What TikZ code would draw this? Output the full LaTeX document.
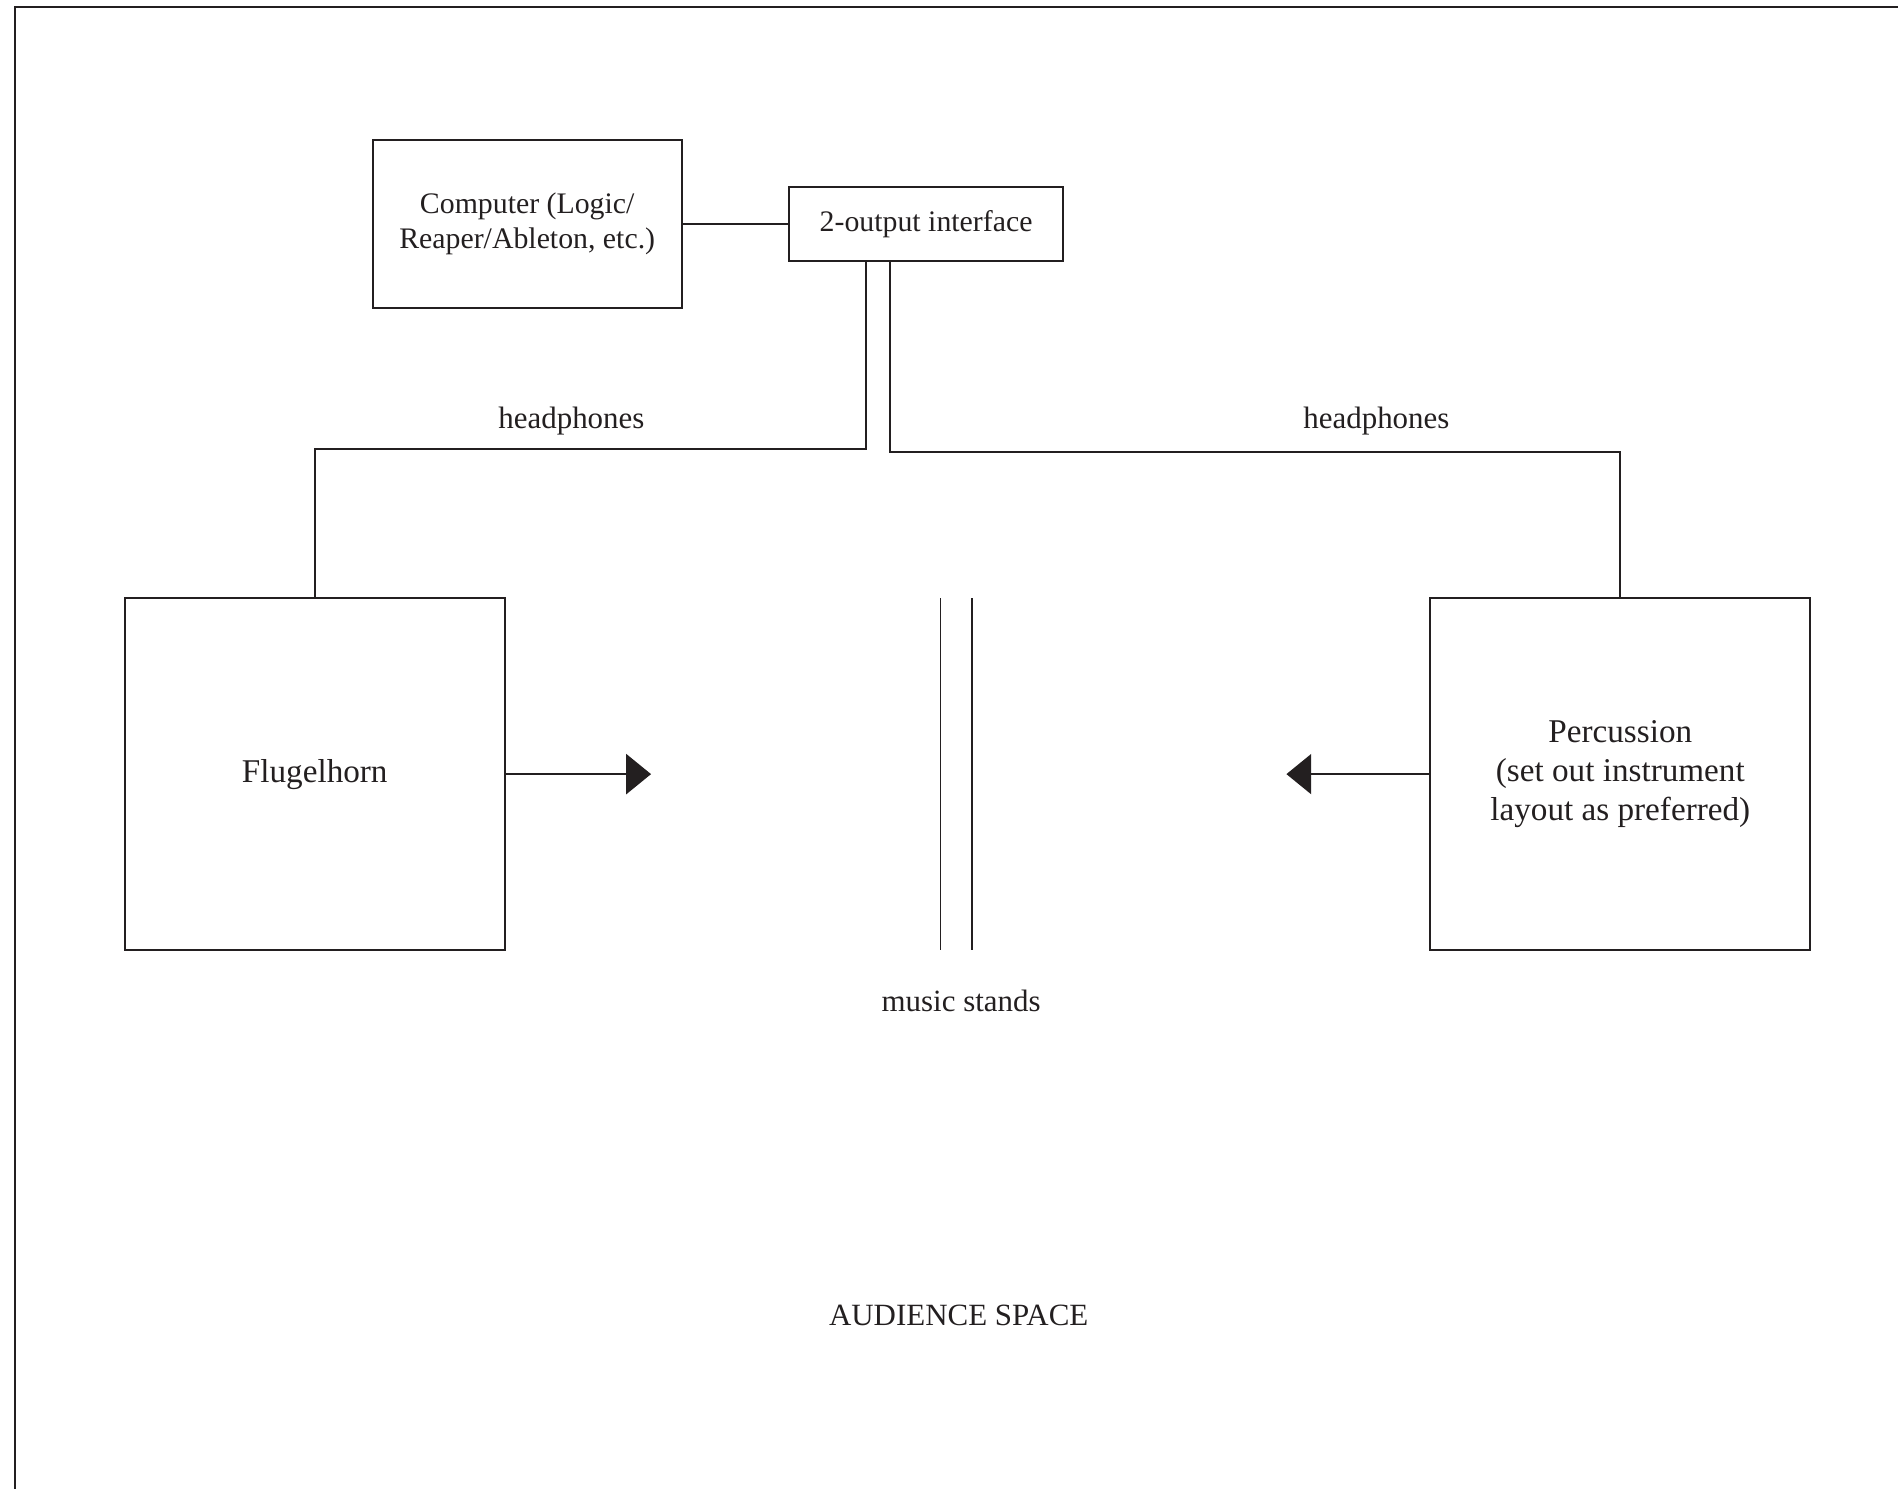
\documentclass[tikz,border=0pt]{standalone}
\usepackage{fontspec}
\setmainfont{Liberation Serif}
\usetikzlibrary{arrows.meta,positioning}
\definecolor{stageInk}{RGB}{35,31,32}

\begin{document}
\begin{tikzpicture}[
  x=0.0125cm, y=-0.0125cm,
  color=stageInk,
  line width=0.7pt,
  device/.style={
    draw,
    inner sep=0pt,
    align=center,
    font=\fontsize{10.6}{12.4}\selectfont
  },
  player/.style={
    draw,
    inner sep=0pt,
    minimum width=4.75cm,
    minimum height=4.4cm,
    align=center,
    font=\fontsize{11.8}{13.8}\selectfont
  },
  arrow/.style={-{Triangle[length=3.1mm,width=5mm]}},
  stand/.style={line width=0.6pt},
  note/.style={font=\fontsize{11}{13}\selectfont}
]
  \useasboundingbox (0,0) rectangle (1898,1488);
  % frame, cut off by the page on the right and at the bottom
  \draw[line width=0.85pt] (15,1500) |- (1910,7);

  \node[device,minimum width=3.86cm,minimum height=2.09cm] (computer)
    at (527.2,224) {Computer (Logic/\\Reaper/Ableton, etc.)};
  \node[device,minimum width=3.42cm,minimum height=0.92cm,
    right=1.32cm of computer] (iface) {2-output interface};
  \draw (computer) -- (iface);

  \node[player] (flugel) at (314.75,774.1) {Flugelhorn};
  \node[player,right=11.54cm of flugel] (perc)
    {Percussion\\(set out instrument\\layout as preferred)};

  % headphone feeds
  \draw ([xshift=-7.56mm]iface.south) -- ++(0,187.5) -| (flugel.north);
  \draw ([xshift=-4.54mm]iface.south) -- ++(0,190) -| (perc.north);
  \node[note] (hpLeft) at (571.4,421.3) {headphones};
  \node[note] (hpRight) at (1376.4,421.3) {headphones};

  % facing directions
  \coordinate[right=18.15mm of flugel.east] (flugelTip);
  \coordinate[left=17.85mm of perc.west] (percTip);
  \draw[arrow] (flugel.east) -- (flugelTip);
  \draw[arrow] (perc.west) -- (percTip);

  % music stands
  \foreach \x in {940.6,972}
    \draw[stand] (\x,598) -- (\x,950);
  \node[note] (stands) at (961.1,1001) {music stands};

  \node[note] (audience) at (958.7,1315.8) {AUDIENCE SPACE};
\end{tikzpicture}
\end{document}
